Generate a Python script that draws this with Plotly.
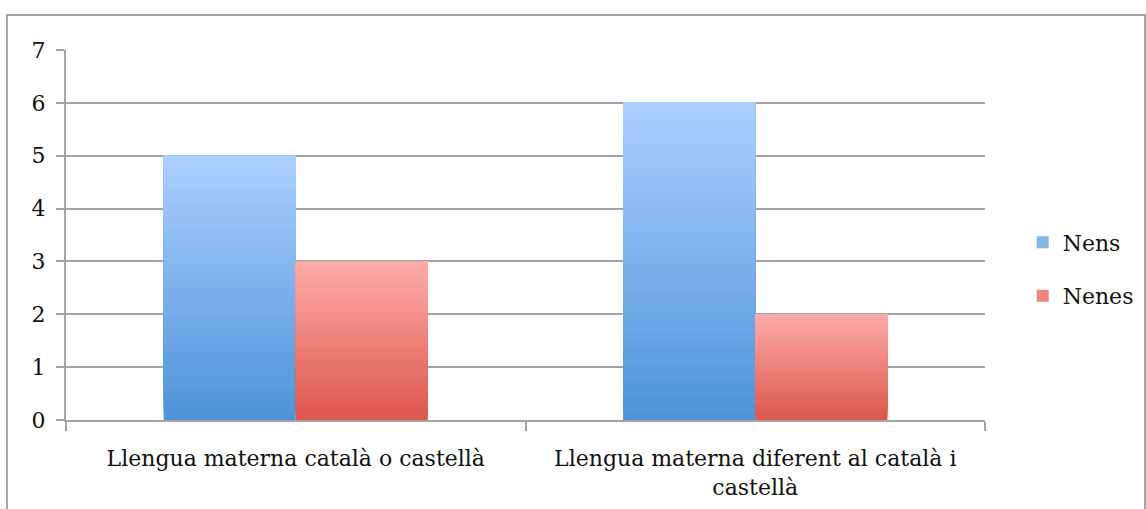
import plotly.graph_objects as go

# Data
categories = ["Llengua materna català o castellà",
              "Llengua materna diferent al català i<br>castellà"]
nens = [5, 6]
nenes = [3, 2]
y_ticks = [0, 1, 2, 3, 4, 5, 6, 7]

series = [
    ("Nens", nens, (0x4f, 0x93, 0xd9), (0xab, 0xcf, 0xff)),
    ("Nenes", nenes, (0xdd, 0x57, 0x4c), (0xfd, 0xab, 0xa8)),
]

FONT = "DejaVu Serif"
GRID = "#a3a3a3"
N_STEPS = 40


def mix(c0, c1, t):
    return "rgb(%d,%d,%d)" % tuple(round(a + (b - a) * t) for a, b in zip(c0, c1))


fig = go.Figure()

# Each bar is painted as a vertical gradient: overlapping slices from the
# base up to the bar's top, getting lighter towards the top.
for name, vals, dark, light in series:
    for i in range(N_STEPS):
        t = i / (N_STEPS - 1)
        fig.add_trace(go.Bar(
            x=categories,
            y=[v * (1 - i / N_STEPS) for v in vals],
            base=[v * i / N_STEPS for v in vals],
            offsetgroup=name,
            marker=dict(color=mix(dark, light, t), line=dict(width=0)),
            name=name,
            legendgroup=name,
            showlegend=False,
            hoverinfo="skip",
        ))
    # legend entry
    fig.add_trace(go.Bar(
        x=[None], y=[None], name=name, offsetgroup=name,
        marker=dict(color=mix(dark, light, 0.55), line=dict(width=0)),
        legendgroup=name, showlegend=True,
    ))

fig.update_layout(
    width=1146, height=509,
    margin=dict(l=66, r=161, t=50, b=89, autoexpand=False),
    paper_bgcolor="white", plot_bgcolor="white",
    barmode="group", bargap=0.425, bargroupgap=0,
    font=dict(family=FONT, size=22, color="#111111"),
    showlegend=True,
    legend=dict(x=1.041, y=0.407, xanchor="left", yanchor="middle",
                font=dict(family=FONT, size=22), itemwidth=30,
                tracegroupgap=22, bgcolor="rgba(0,0,0,0)"),
    xaxis=dict(
        showgrid=False, showline=True, linecolor=GRID, linewidth=2,
        ticks="outside", ticklen=9, tickcolor=GRID, tickwidth=2,
        tickson="boundaries", tickfont=dict(family=FONT, size=22),
        ticklabelstandoff=18,
    ),
    yaxis=dict(
        range=[0, 7], tickvals=y_ticks, showgrid=True, gridcolor=GRID,
        gridwidth=2, showline=True, linecolor=GRID, linewidth=2,
        ticks="outside", ticklen=8, tickcolor=GRID, tickwidth=2,
        zeroline=False, tickfont=dict(family=FONT, size=22),
        ticklabelstandoff=6,
    ),
    shapes=[dict(type="rect", xref="paper", yref="paper",
                 x0=-0.0642, x1=1.1741, y0=-0.2568, y1=1.0946,
                 line=dict(color=GRID, width=2), layer="below")],
)

fig.write_html("out.html")
